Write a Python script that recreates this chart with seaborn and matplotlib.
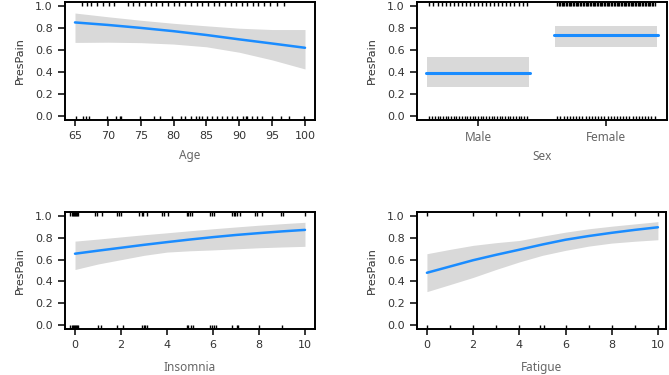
import numpy as np
import pandas as pd
import matplotlib
matplotlib.use("Agg")
import matplotlib.pyplot as plt
import seaborn as sns

# ---------------- data ----------------
age_x = [65, 70, 75, 80, 85, 90, 95, 100]
age_fit = [0.853, 0.830, 0.803, 0.773, 0.738, 0.698, 0.660, 0.621]
age_upper = [0.939, 0.905, 0.873, 0.845, 0.822, 0.800, 0.788, 0.788]
age_lower = [0.670, 0.672, 0.668, 0.655, 0.630, 0.580, 0.510, 0.427]
age_rug_top = [66.0, 66.8, 67.5, 68.4, 69.2, 70.2, 71.0, 73.1, 73.9, 74.8, 75.7,
               76.6, 77.4, 78.3, 79.1, 80.0, 80.8, 81.7, 82.6, 83.5, 84.4, 85.3,
               86.1, 86.9, 87.8, 88.7, 89.5, 90.4, 91.2, 92.1, 92.9, 93.7, 94.6,
               95.8, 96.8]
age_rug_bottom = [65.2, 66.2, 66.7, 67.2, 69.9, 71.2, 71.8, 72.0, 74.9, 77.0, 78.0,
                  79.8, 81.1, 81.8, 82.6, 83.4, 83.9, 84.4, 85.1, 85.9, 86.6, 87.4,
                  88.2, 88.9, 89.7, 90.5, 91.0, 91.2, 92.0, 92.7, 93.5, 95.0, 96.3,
                  97.5, 99.9]

sex_levels = ["Male", "Female"]
sex_fit = [0.388, 0.736]
sex_lower = [0.261, 0.624]
sex_upper = [0.533, 0.818]
sex_rug_top_n = [25, 70]
sex_rug_bottom_n = [37, 32]

insom_x = [0, 1, 2, 3, 4, 5, 6, 7, 8, 9, 10]
insom_fit = [0.655, 0.683, 0.710, 0.737, 0.762, 0.786, 0.808, 0.828, 0.845, 0.861, 0.875]
insom_upper = [0.771, 0.790, 0.810, 0.830, 0.848, 0.867, 0.885, 0.902, 0.918, 0.932, 0.945]
insom_lower = [0.509, 0.560, 0.600, 0.640, 0.670, 0.682, 0.690, 0.700, 0.710, 0.717, 0.723]
insom_rug_top = [-0.2, -0.15, -0.1, -0.05, 0.0, 0.05, 0.1, 0.13, 0.87, 0.97, 1.16,
                 1.81, 1.93, 2.0, 2.8, 2.9, 2.97, 3.12, 3.77, 3.87, 4.06, 4.86, 4.93,
                 5.0, 5.07, 5.87, 5.94, 6.04, 6.81, 6.9, 6.97, 7.03, 7.17, 7.83, 7.9,
                 8.12, 8.94, 9.03, 10.0]
insom_rug_bottom = [-0.2, -0.15, -0.1, -0.05, 0.0, 0.05, 0.1, 0.13, 1.01, 1.12, 1.81,
                    2.07, 2.9, 2.98, 3.05, 3.14, 4.86, 4.93, 5.05, 5.12, 5.87, 5.94,
                    6.04, 6.13, 6.81, 7.03, 7.1, 8.01, 8.99]

fat_x = [0, 1, 2, 3, 4, 5, 6, 7, 8, 9, 10]
fat_fit = [0.479, 0.537, 0.595, 0.645, 0.692, 0.740, 0.784, 0.818, 0.848, 0.875, 0.899]
fat_upper = [0.655, 0.695, 0.732, 0.757, 0.777, 0.817, 0.854, 0.885, 0.909, 0.930, 0.951]
fat_lower = [0.305, 0.370, 0.436, 0.510, 0.579, 0.640, 0.686, 0.725, 0.753, 0.770, 0.784]
fat_rug_top = [0, 2, 3, 4, 5, 6, 7, 8, 9, 10]
fat_rug_bottom = [0, 1, 2, 3, 4, 4.9, 5.05, 6, 7, 8, 9, 10]

y_ticks = [0.0, 0.2, 0.4, 0.6, 0.8, 1.0]

# ---------------- style ----------------
sns.set_style("ticks")
plt.rcParams["font.family"] = ["DejaVu Sans"]

W, H = 669, 375
fig = plt.figure(figsize=(W / 100, H / 100), dpi=100)

BAND = "#d9d9d9"
LINE = "#1a8cff"
TICK_COL = "#333333"
LAB_COL = "#666666"
RUG_H = 0.035


def make_ax(left, right, top, bottom):
    return fig.add_axes([left / W, 1 - bottom / H, (right - left) / W, (bottom - top) / H])


def style_ax(ax, xlabel, labelpad):
    for s in ax.spines.values():
        s.set_linewidth(1.4)
        s.set_color("black")
    ax.set_ylim(-0.04, 1.04)
    ax.set_yticks(y_ticks)
    ax.set_yticklabels([f"{v:.1f}" for v in y_ticks])
    ax.tick_params(axis="y", length=5, width=1.1, pad=4, labelsize=8,
                   labelcolor=TICK_COL, color="black")
    ax.tick_params(axis="x", length=4.5, width=1.1, pad=3.5, labelsize=8,
                   labelcolor=TICK_COL, color="black")
    ax.set_ylabel("PresPain", family=["Liberation Sans Narrow", "DejaVu Sans"],
                  fontsize=8, color="#333333", labelpad=7)
    ax.set_xlabel(xlabel, family=["Noto Sans", "DejaVu Sans"], fontsize=8.5,
                  color=LAB_COL, labelpad=labelpad)


def rugs(ax, top, bottom):
    sns.rugplot(x=bottom, ax=ax, height=RUG_H, color="black", lw=1.0, clip_on=True)
    tr = ax.get_xaxis_transform()
    ax.vlines(top, 1 - RUG_H, 1, transform=tr, color="black", lw=1.0)


def continuous_panel(ax, x, fit, lo, up, rtop, rbot, xlim, xticks, xlabel, labelpad):
    ax.fill_between(x, lo, up, color=BAND, lw=0)
    sns.lineplot(x=x, y=fit, ax=ax, color=LINE, lw=1.8)
    rugs(ax, rtop, rbot)
    ax.set_xlim(*xlim)
    ax.set_xticks(xticks)
    style_ax(ax, xlabel, labelpad)


# Age
ax1 = make_ax(65, 315, 2, 120)
continuous_panel(ax1, age_x, age_fit, age_lower, age_upper, age_rug_top,
                 age_rug_bottom, (63.48, 101.52), list(range(65, 101, 5)), "Age", 6)

# Sex
ax2 = make_ax(417, 667, 2, 120)
half = 0.4
for i, lev in enumerate(sex_levels):
    ax2.fill_between([i - half, i + half], [sex_lower[i]] * 2, [sex_upper[i]] * 2,
                     color=BAND, lw=0)
    sns.lineplot(x=[i - half - 0.01, i + half + 0.01], y=[sex_fit[i]] * 2, ax=ax2,
                 color=LINE, lw=2.2)
    tpos = np.linspace(i - 0.38, i + 0.38, sex_rug_top_n[i])
    bpos = np.linspace(i - 0.38, i + 0.38, sex_rug_bottom_n[i])
    rugs(ax2, tpos, bpos)
ax2.set_xlim(-0.477, 1.477)
ax2.set_xticks([0, 1])
style_ax(ax2, "Sex", 4)
ax2.set_xticklabels(sex_levels, family=["Noto Sans", "DejaVu Sans"], fontsize=8.5,
                    color=LAB_COL)

# Insomnia
ax3 = make_ax(65, 315, 212, 329)
continuous_panel(ax3, insom_x, insom_fit, insom_lower, insom_upper, insom_rug_top,
                 insom_rug_bottom, (-0.435, 10.435), list(range(0, 11, 2)), "Insomnia", 8)

# Fatigue
ax4 = make_ax(417, 666, 212, 329)
continuous_panel(ax4, fat_x, fat_fit, fat_lower, fat_upper, fat_rug_top,
                 fat_rug_bottom, (-0.43, 10.35), list(range(0, 11, 2)), "Fatigue", 8)

fig.savefig("out.png", dpi=100)
